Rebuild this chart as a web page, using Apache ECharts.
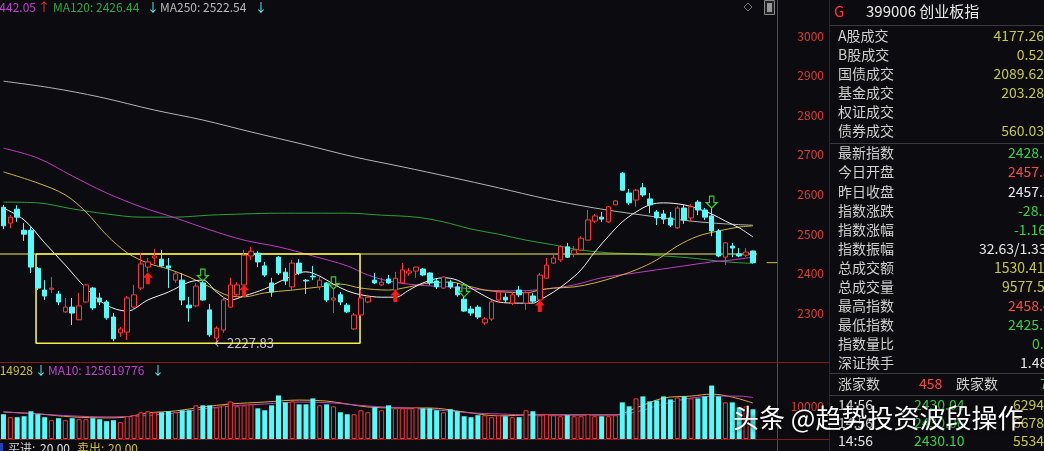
<!DOCTYPE html>
<html><head><meta charset="utf-8">
<script src="https://cdn.jsdelivr.net/npm/echarts@6/dist/echarts.min.js"></script>
<style>html,body{margin:0;padding:0;background:#0c0c10;overflow:hidden}#c{width:1044px;height:451px;}</style>
</head><body><div id="c"></div>
<script>
// [open, close, low, high]
const candles = [
[2568,2521,2513,2574],[2528,2543,2515,2548],[2563,2543,2531,2573],[2510,2500,2483,2528],[2510,2417,2402,2518],
[2414,2364,2359,2417],[2359,2344,2334,2384],[2361,2364,2351,2392],[2349,2329,2321,2357],[2304,2316,2301,2339],
[2316,2301,2271,2339],[2284,2319,2283,2352],[2329,2372,2327,2374],[2364,2314,2309,2367],[2339,2329,2321,2352],
[2329,2289,2284,2334],[2291,2236,2230,2301],[2251,2261,2241,2266],[2253,2339,2233,2344],[2316,2347,2309,2372],
[2364,2425,2359,2453],[2417,2430,2405,2440],[2440,2445,2425,2463],[2437,2420,2418,2460],[2420,2415,2364,2440],
[2384,2400,2377,2405],[2384,2334,2321,2402],[2321,2314,2279,2342],[2319,2369,2316,2377],[2377,2334,2332,2384],
[2309,2246,2241,2324],[2238,2263,2227.83,2268],[2258,2334,2251,2342],[2316,2372,2314,2390],[2347,2372,2342,2379],
[2372,2447,2369,2460],[2445,2457,2435,2468],[2452,2430,2417,2457],[2420,2397,2392,2430],[2377,2354,2342,2390],
[2442,2402,2397,2445],[2404,2382,2372,2415],[2367,2427,2359,2435],[2427,2402,2397,2437],[2384,2382,2349,2387],
[2394,2392,2384,2420],[2367,2384,2359,2392],[2377,2334,2329,2379],[2334,2339,2301,2364],[2347,2329,2321,2354],
[2321,2304,2301,2326],[2261,2296,2258,2301],[2296,2339,2293,2359],[2329,2341,2326,2347],[2384,2377,2374,2402],
[2372,2379,2369,2390],[2387,2377,2374,2397],[2359,2389,2357,2405],[2377,2410,2374,2427],[2402,2407,2395,2415],
[2407,2417,2390,2418],[2412,2397,2394,2415],[2402,2377,2372,2404],[2382,2367,2362,2387],[2364,2392,2362,2394],
[2379,2367,2362,2385],[2367,2347,2342,2377],[2336,2306,2304,2344],[2311,2301,2294,2319],[2316,2291,2286,2321],
[2276,2286,2271,2291],[2286,2329,2281,2334],[2334,2354,2326,2359],[2341,2334,2326,2351],[2326,2347,2321,2354],
[2359,2347,2341,2369],[2326,2352,2309,2356],[2344,2331,2326,2351],[2334,2397,2331,2402],[2389,2422,2387,2440],
[2427,2440,2425,2453],[2435,2468,2430,2472],[2468,2442,2440,2478],[2450,2460,2442,2470],[2460,2490,2458,2495],
[2485,2536,2484,2561],[2533,2546,2528,2551],[2543,2538,2531,2556],[2531,2569,2528,2571],[2574,2584,2573,2586],
[2654,2611,2609,2657],[2604,2579,2574,2614],[2586,2611,2569,2614],[2617,2599,2594,2629],[2589,2574,2553,2604],
[2556,2541,2523,2561],[2551,2538,2526,2561],[2541,2523,2518,2556],[2516,2566,2513,2571],[2566,2536,2526,2574],
[2541,2569,2533,2576],[2581,2561,2548,2586],[2561,2543,2536,2566],[2546,2508,2495,2566],[2508,2445,2442,2513],
[2442,2478,2422,2480],[2470,2465,2442,2478],[2450,2445,2442,2465],[2447,2455,2442,2465],[2457.57,2428.18,2425.79,2458.42]
];
const volumes = [
7500,6600,6600,6900,8400,7500,6600,5700,6300,5700,
6300,6000,6000,6300,6000,5400,5700,5100,6900,7200,
8100,8400,8100,8100,8400,8100,8700,8700,10200,10200,
10200,9600,10200,11400,9900,10200,10500,9300,8700,10200,
13200,11100,11400,10500,10500,12300,10200,10500,9900,8100,
7500,7500,8700,8100,9600,8700,10200,9300,9300,9300,
9600,9300,9300,8700,8100,9000,8400,6900,6600,7200,
7200,6600,7200,6900,6600,6600,8700,8400,7200,7500,
7200,6900,7200,6900,6900,7500,6900,6900,6900,7200,
11100,9900,12300,12900,11400,11700,12900,12000,12600,12900,
12300,12300,12900,16200,12900,11100,11100,9600,9900,9000
];
const slotCount = 113;
const categories = Array.from({length: slotCount}, (_, i) => String(i));
// moving averages: [candle index, value]
const maWhite = [[0,2566],[3,2536],[6,2478],[9,2422],[12,2364],[15,2321],[18,2306],[21,2334],[24,2354],[27,2379],[29,2384],[31,2354],[33,2334],[35,2344],[38,2362],[41,2387],[44,2405],[46,2394],[48,2374],[50,2357],[52,2347],[55,2341],[57,2341],[59,2359],[61,2377],[64,2390],[66,2384],[68,2364],[70,2344],[72,2329],[75,2326],[77,2326],[78,2334],[80,2354],[82,2379],[84,2410],[86,2455],[88,2495],[90,2531],[92,2556],[94,2574],[96,2579],[99,2574],[101,2564],[103,2551],[105,2533],[107,2516],[109,2493]];
const maYellow = [[0,2657],[5,2629],[9,2599],[12,2556],[15,2498],[18,2453],[21,2427],[24,2412],[27,2392],[30,2367],[33,2344],[35,2342],[38,2352],[42,2359],[46,2367],[49,2374],[52,2364],[56,2359],[59,2367],[62,2377],[65,2379],[67,2372],[70,2359],[73,2354],[76,2352],[78,2359],[80,2364],[83,2367],[86,2377],[89,2392],[92,2410],[95,2435],[98,2470],[101,2495],[104,2508],[107,2518],[109,2521]];
const ma60 = [[0,2717],[5,2692],[10,2647],[15,2604],[20,2569],[25,2541],[30,2511],[35,2485],[40,2468],[45,2445],[50,2420],[53,2397],[56,2382],[60,2372],[65,2367],[70,2359],[75,2357],[79,2362],[83,2372],[87,2390],[91,2400],[95,2410],[99,2420],[103,2430],[106,2435],[109,2442.05]];
const ma120 = [[0,2581],[5,2579],[10,2564],[15,2551],[20,2543],[25,2543],[30,2548],[35,2551],[40,2553],[45,2553],[50,2553],[55,2548],[60,2543],[64,2531],[68,2513],[72,2500],[76,2485],[80,2473],[84,2460],[88,2453],[92,2450],[96,2445],[100,2440],[104,2432],[107,2428],[109,2426.44]];
const ma250 = [[0,2886],[7,2869],[14,2846],[22,2813],[29,2788],[36,2758],[44,2725],[51,2695],[58,2670],[65,2644],[72,2617],[79,2589],[86,2566],[93,2548],[100,2533],[105,2526],[109,2522.54]];
const volMa5 = [[0,8200],[5,7600],[10,6700],[15,6400],[18,6700],[21,7900],[25,8500],[29,9700],[33,10600],[38,11200],[43,11800],[47,11500],[50,10600],[53,9700],[57,9400],[62,9400],[67,8200],[72,7000],[77,7300],[82,7300],[89,7300],[92,9400],[96,12400],[100,13000],[103,13600],[106,12700],[109,10900]];
const volMa10 = [[0,8200],[5,7600],[10,7000],[15,6700],[20,7000],[25,7900],[29,9100],[33,10000],[38,10600],[43,11200],[48,10900],[53,10000],[58,9400],[63,8800],[68,7900],[72,7600],[77,7300],[82,7300],[89,7300],[92,8200],[96,10600],[100,12400],[104,13000],[107,13000],[109,12560]];
const buySignals = [[21,2389],[35,2357],[57,2344],[78,2319]];
const sellSignals = [[29,2397],[48,2377],[67,2357],[103,2581]];
const lowPoint = [31, 2227.83];
const boxX = [4.74, 51.86];
const boxPrice = [2450, 2225];
const levelSpan = [-0.5, 109.6];
const lastPrice = 2428.18;
const lastSpan = [111.0, 112.5];
const priceTicks = [2300,2400,2500,2600,2700,2800,2900,3000];
const volTicks = [10000];

const BG = '#0c0c10', RED = '#ff3434', CYAN = '#54fcfc';
const FONT = '"Noto Sans CJK SC", "Microsoft YaHei", sans-serif';

const candleData = candles.map(c => [c[0], c[1], c[2], c[3]]);
const volData = volumes.map((v, i) => {
  const up = candles[i][1] >= candles[i][0];
  return {value: v, itemStyle: up ? {color: BG, borderColor: RED, borderWidth: 1} : {color: CYAN, borderColor: CYAN, borderWidth: 0}};
});

function maLine(data, color, xi, yi, w) {
  return {type: 'line', data, xAxisIndex: xi, yAxisIndex: yi, smooth: 0.35, symbol: 'none', connectNulls: true,
    lineStyle: {color, width: w || 1}, silent: true, z: 3};
}

const boxData = [[boxX[0], boxPrice[0]], [boxX[1], boxPrice[0]], [boxX[1], boxPrice[1]], [boxX[0], boxPrice[1]], [boxX[0], boxPrice[0]]];

const chart = echarts.init(document.getElementById('c'), null, {renderer: 'canvas'});
const T = (text, x, y, fill, size, align, extra) => Object.assign({type: 'text', z: 50, silent: true,
  style: Object.assign({text, x, y, fill, font: (size || 14) + 'px ' + FONT, align: align || 'left', verticalAlign: 'middle'}, {})}, extra || {});
const L = (x1, y1, x2, y2, stroke, w) => ({type: 'line', silent: true, z: 40, shape: {x1, y1, x2, y2}, style: {stroke, lineWidth: w || 1}});

const labelRows = [
  ['A股成交', '4177.26', '#c8c83a'], ['B股成交', '0.52', '#c8c83a'], ['国债成交', '2089.62', '#c8c83a'],
  ['基金成交', '203.28', '#c8c83a'], ['权证成交', '', '#c8c83a'], ['债券成交', '560.03', '#c8c83a']
];
const quoteRows = [
  ['最新指数', '2428.18', '#2cd44a', 1008], ['今日开盘', '2457.57', '#ff4444', 1008], ['昨日收盘', '2457.29', '#e6e6f0', 1008],
  ['指数涨跌', '-28.11', '#2cd44a', 1018], ['指数涨幅', '-1.16%', '#2cd44a', 1014], ['指数振幅', '32.63/1.33%', '#e6e6e6', 979],
  ['总成交额', '1530.41亿', '#c8c83a', 994], ['总成交量', '9577.5万', '#c8c83a', 1002], ['最高指数', '2458.42', '#ff4444', 1008],
  ['最低指数', '2425.79', '#2cd44a', 1008], ['指数量比', '0.86', '#2cd44a', 1032], ['深证换手', '1.48%', '#e6e6e6', 1020]
];
const ticks = [['14:56', '2430.04', '6294'], ['14:56', '2430.06', '6678'], ['14:56', '2430.10', '5534']];

const graphics = [];
graphics.push(L(777.5, 0, 777.5, 451, '#c02020', 1));
graphics.push(L(0, 362.5, 829, 362.5, '#8a1818', 1));
graphics.push(L(0, 439.5, 829, 439.5, '#8a1818', 1));
graphics.push(L(829.5, 0, 829.5, 451, '#2a2a2e', 1));
[25.5, 143.5, 373.5, 395.5].forEach(y => graphics.push(L(830, y, 1044, y, '#3a3a3e', 1)));
// top legend
graphics.push(T('MA60: 2442.05', 36, 7, '#c040d0', 12, 'right'));
graphics.push(T('↑', 38, 7, RED, 12));
graphics.push(T('MA120: 2426.44', 53, 7, '#2aa846', 12));
graphics.push(T('↓', 147, 7, CYAN, 12));
graphics.push(T('MA250: 2522.54', 160, 7, '#b8b8b8', 12));
graphics.push(T('↓', 255, 7, CYAN, 12));
// top right icons
graphics.push({type: 'polygon', z: 40, silent: true, shape: {points: [[748, 3], [752, 7], [748, 11], [744, 7]]}, style: {fill: 'none', stroke: '#777', lineWidth: 1}});
graphics.push({type: 'rect', z: 40, silent: true, shape: {x: 764.5, y: 0.5, width: 10, height: 14}, style: {fill: '#222', stroke: '#888', lineWidth: 1}});
graphics.push({type: 'rect', z: 41, silent: true, shape: {x: 767, y: 3, width: 5, height: 9}, style: {fill: '#999'}});
// volume legend
graphics.push(T('14928', 33, 370, '#d0c030', 12, 'right'));
graphics.push(T('↓', 35, 370, CYAN, 12));
graphics.push(T('MA10: 125619776', 48, 370, '#c040d0', 12));
graphics.push(T('↓', 152, 370, CYAN, 12));
// bottom buy/sell
graphics.push({type: 'rect', z: 40, silent: true, shape: {x: 0, y: 443, width: 3, height: 9}, style: {fill: '#2040c0'}});
graphics.push(T('买进:', 8, 448, '#d0d0d0', 12));
graphics.push(T('20.00', 40, 448, '#e0e0e0', 12));
graphics.push(T('卖出:', 77, 448, '#d0c030', 12));
graphics.push(T('20.00', 108, 448, '#d0c030', 12));
// right panel
graphics.push(T('G', 834, 11, '#ff3030', 15));
graphics.push(T('399006 创业板指', 866, 11, '#e8e8e8', 15));
labelRows.forEach((r, k) => {
  const y = 36 + k * 19;
  graphics.push(T(r[0], 838, y, '#cfcfcf', 14));
  if (r[1]) graphics.push(T(r[1], 1044, y, r[2], 14, 'right'));
});
quoteRows.forEach((r, k) => {
  const y = 153 + k * 19.1;
  graphics.push(T(r[0], 838, y, '#cfcfcf', 14));
  graphics.push(T(r[1], r[3], y, r[2], 14));
});
graphics.push(T('涨家数', 838, 384, '#cfcfcf', 14));
graphics.push(T('458', 919, 384, '#ff4444', 14));
graphics.push(T('跌家数', 956, 384, '#cfcfcf', 14));
graphics.push(T('712', 1040, 384, '#2cd44a', 14));
ticks.forEach((r, k) => {
  const y = 405 + k * 17.7;
  graphics.push(T(r[0], 838, y, '#e0e0e0', 14));
  graphics.push(T(r[1], 914, y, '#2cd44a', 14));
  graphics.push(T(r[2], 1013, y, '#c8c83a', 14));
});
// watermark
graphics.push({type: 'text', z: 100, silent: true, style: {text: '头条 @趋势投资波段操作', x: 733, y: 418, fill: '#ffffff',
  font: '26px ' + FONT, verticalAlign: 'middle', textShadowColor: 'rgba(0,0,0,0.9)', textShadowBlur: 4}});

const option = {
  backgroundColor: BG,
  animation: false,
  grid: [
    {left: 0, top: 4.29, width: 777, height: 348.8, containLabel: false},
    {left: 0, top: 373, width: 777, height: 66, containLabel: false}
  ],
  xAxis: [
    {type: 'category', gridIndex: 0, data: categories, boundaryGap: true, show: false},
    {type: 'category', gridIndex: 1, data: categories, boundaryGap: true, show: false},
    {type: 'value', gridIndex: 0, min: -0.5, max: slotCount - 0.5, show: false}
  ],
  yAxis: [
    {type: 'value', gridIndex: 0, position: 'right', min: 2200, max: 3080, interval: 100,
      axisLine: {show: false}, axisTick: {show: false}, splitLine: {show: false},
      axisLabel: {color: '#e23a3a', fontSize: 12, fontFamily: FONT, align: 'right', margin: 47,
        formatter: v => priceTicks.includes(v) ? String(v) : ''}},
    {type: 'value', gridIndex: 1, position: 'right', min: 0, max: 20000, interval: 10000,
      axisLine: {show: false}, axisTick: {show: false}, splitLine: {show: false},
      axisLabel: {color: '#e23a3a', fontSize: 12, fontFamily: FONT, align: 'right', margin: 47,
        formatter: v => volTicks.includes(v) ? String(v) : ''}}
  ],
  graphic: graphics,
  series: [
    maLine(ma250, '#b4b4b4', 0, 0),
    maLine(ma120, '#2e9e3a', 0, 0),
    maLine(ma60, '#c238c8', 0, 0),
    maLine(maYellow, '#cdb43a', 0, 0),
    maLine(maWhite, '#f2f2f2', 0, 0),
    {type: 'line', xAxisIndex: 2, yAxisIndex: 0, data: [[levelSpan[0], boxPrice[0]], [levelSpan[1], boxPrice[0]]],
      symbol: 'none', lineStyle: {color: '#f4f040', width: 1.2}, silent: true, z: 4},
    {type: 'line', xAxisIndex: 2, yAxisIndex: 0, data: boxData,
      symbol: 'none', lineStyle: {color: '#f4f040', width: 1.6}, silent: true, z: 4},
    {type: 'line', xAxisIndex: 2, yAxisIndex: 0, data: [[lastSpan[0], lastPrice], [lastSpan[1], lastPrice]],
      symbol: 'none', lineStyle: {color: '#d0c030', width: 1}, silent: true, z: 4},
    {type: 'candlestick', xAxisIndex: 0, yAxisIndex: 0, data: candleData, barWidth: 5, z: 5,
      itemStyle: {color: BG, color0: CYAN, borderColor: RED, borderColor0: CYAN, borderWidth: 1}},
    {type: 'scatter', xAxisIndex: 0, yAxisIndex: 0, data: buySignals, z: 6,
      symbol: 'path://M5,0 L10,5.5 L7,5.5 L7,12 L3,12 L3,5.5 L0,5.5 Z', symbolSize: [10, 12],
      itemStyle: {color: '#ff1a1a', opacity: 1}},
    {type: 'scatter', xAxisIndex: 0, yAxisIndex: 0, data: sellSignals, z: 6,
      symbol: 'path://M3,0 L7,0 L7,6.5 L10,6.5 L5,12 L0,6.5 L3,6.5 Z', symbolSize: [11, 12],
      itemStyle: {color: 'rgba(0,0,0,0)', borderColor: '#30d030', borderWidth: 1.2, opacity: 1}},
    {type: 'scatter', xAxisIndex: 0, yAxisIndex: 0, data: [lowPoint], z: 7, symbolSize: 1,
      itemStyle: {color: 'rgba(0,0,0,0)'},
      label: {show: true, position: 'right', distance: 0, offset: [-3, 1], color: '#e8e8e8', fontSize: 13,
        fontFamily: FONT, formatter: p => '←' + p.value[1].toFixed(2)}},
    {type: 'bar', xAxisIndex: 1, yAxisIndex: 1, data: volData, barWidth: 5, z: 5},
    maLine(volMa5, '#e0a830', 1, 1),
    maLine(volMa10, '#c040c8', 1, 1)
  ]
};
chart.setOption(option);
</script>
</body></html>
